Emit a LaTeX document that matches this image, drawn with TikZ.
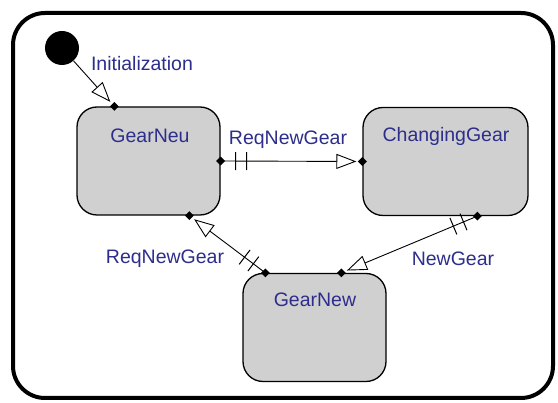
\documentclass[tikz,border=0pt]{standalone}
\usepackage{fontspec}
\setmainfont{Liberation Sans}
\usetikzlibrary{arrows.meta,decorations.markings,calc,shapes.geometric}
\definecolor{txtblue}{RGB}{45,45,140}
\definecolor{statefill}{RGB}{208,208,208}
\begin{document}
\begin{tikzpicture}[x=1pt,y=-1pt,
  rootbox/.style={draw=black, line width=4pt, fill=white, rounded corners=32pt, inner sep=0pt},
  statebox/.style={draw=black, line width=1.3pt, fill=statefill, rounded corners=20pt, inner sep=0pt},
  lbl/.style={text=txtblue, font=\fontsize{19.5}{22}\selectfont, inner sep=0pt, text height=14pt, text depth=4pt},
  initdot/.style={circle, fill=black, inner sep=0pt, minimum size=34pt},
  dot/.style={diamond, fill=black, inner sep=0pt, minimum size=9pt},
  trans/.style={draw=black, line width=0.9pt, -{Triangle[open,length=20pt,width=15pt,line width=0.9pt]}, shorten >=6pt},
  bar/.style={draw=black, line width=1pt, arrows=-, shorten >=0pt, shorten <=0pt},
  bars/.style={postaction={decorate}, decoration={markings,
     mark=at position 15pt with {\draw[bar] (0pt,-9pt) -- (0pt,9pt);},
     mark=at position 26pt with {\draw[bar] (0pt,-9pt) -- (0pt,9pt);}}}]
\useasboundingbox (0,0) rectangle (558,403);
\fill[white] (0,0) rectangle (558,403);

\node[rootbox, minimum width=540pt, minimum height=385pt] (root) at (283,205.5) {};

\node[statebox, minimum width=143pt, minimum height=108pt] (gearneu) at (148.5,161) {};
\node[statebox, minimum width=165pt, minimum height=108pt] (changing) at (445.5,161.5) {};
\node[statebox, minimum width=143pt, minimum height=108pt] (gearnew) at (314.5,327.5) {};

\node[lbl] (gearneut) at (150,138) {GearNeu};
\node[lbl] (changingt) at (446,137) {ChangingGear};
\node[lbl] (gearnewt) at (315,302) {GearNew};

\node[initdot] (init) at (62,48) {};

\coordinate (p0) at ($(gearneu.north west)+(38,0)$);
\coordinate (p1a) at (gearneu.east);
\coordinate (p1b) at (changing.west);
\coordinate (p2a) at ($(gearnew.north west)+(23,0)$);
\coordinate (p2b) at ($(gearneu.south west)+(113,0)$);
\coordinate (p3a) at ($(changing.south west)+(115,0)$);
\coordinate (p3b) at ($(gearnew.north west)+(99,0)$);

\draw[trans] (init) -- (p0);
\draw[trans, bars] (p1a) -- (p1b);
\draw[trans, bars] (p2a) -- (p2b);
\draw[trans, bars] (p3a) -- (p3b);

\node[dot] (d0) at (p0) {};
\node[dot] (d1a) at (p1a) {};
\node[dot] (d1b) at (p1b) {};
\node[dot] (d2a) at (p2a) {};
\node[dot] (d2b) at (p2b) {};
\node[dot] (d3a) at (p3a) {};
\node[dot] (d3b) at (p3b) {};

\node[lbl] (initlbl) at (142,66) {Initialization};
\node[lbl] (req1) at (288,140) {ReqNewGear};
\node[lbl] (req2) at (165,259) {ReqNewGear};
\node[lbl] (newgearl) at (453,261) {NewGear};
\end{tikzpicture}
\end{document}
